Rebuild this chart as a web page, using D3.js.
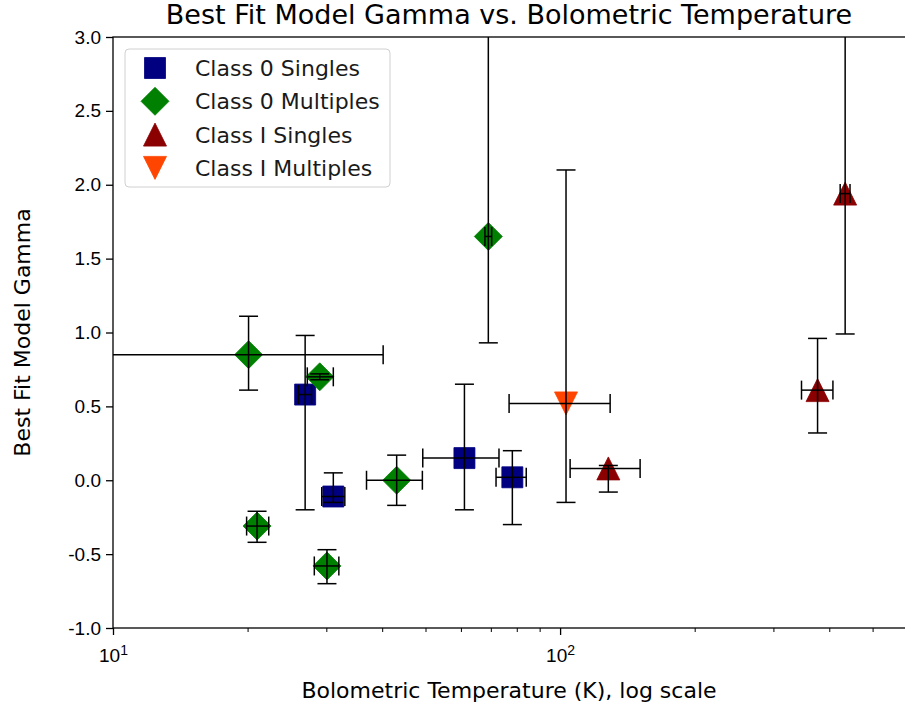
<!DOCTYPE html>
<html>
<head>
<meta charset="utf-8">
<script src="https://cdn.jsdelivr.net/npm/d3@7"></script>
<style>
  html, body { margin: 0; padding: 0; background: #fff; }
  svg { display: block; font-family: "DejaVu Sans", sans-serif; }
</style>
</head>
<body>
<svg id="chart" width="905" height="711"></svg>
<script>
// Class 0 singles
const c0sT    = [26.9, 31.1, 61.1, 78.2];
const c0sG    = [0.58, -0.11, 0.15, 0.02];
const c0sTlo  = [0.9, 1.8, 11.8, 6.3];
const c0sThi  = [0.9, 1.9, 11.9, 5.8];
const c0sGlo  = [0.78, 0.04, 0.35, 0.32];
const c0sGhi  = [0.40, 0.16, 0.50, 0.18];

// Class 0 multiples
const c0mT    = [20.1, 29.0, 21.0, 30.1, 43.1, 69.1];
const c0mG    = [0.85, 0.70, -0.31, -0.58, 0.00, 1.65];
const c0mTlo  = [20.0, 1.8, 1.1, 1.9, 6.2, 1.2];
const c0mThi  = [20.1, 2.1, 1.3, 1.9, 6.1, 1.2];
const c0mGlo  = [0.24, 0.02, 0.11, 0.12, 0.17, 0.72];
const c0mGhi  = [0.26, 0.02, 0.10, 0.11, 0.17, 1.60];

// Class I singles
const c1sT    = [128.2, 376.6, 434.1];
const c1sG    = [0.08, 0.61, 1.94];
const c1sTlo  = [22.9, 29.9, 11.0];
const c1sThi  = [22.8, 31.0, 11.0];
const c1sGlo  = [0.16, 0.29, 0.95];
const c1sGhi  = [0.02, 0.35, 1.30];

// Class I multiples
const c1mT    = [103.1];
const c1mG    = [0.52];
const c1mTlo  = [26.2];
const c1mThi  = [26.3];
const c1mGlo  = [0.67];
const c1mGhi  = [1.58];

const seriesNames = ["Class 0 Singles", "Class 0 Multiples", "Class I Singles", "Class I Multiples"];
const yTicks = [-1.0, -0.5, 0.0, 0.5, 1.0, 1.5, 2.0, 2.5, 3.0];
const xMajorTicks = [10, 100];
const xMinorTicks = [20, 30, 40, 50, 60, 70, 80, 90, 200, 300, 400, 500];

const series = [
  { name: seriesNames[0], T: c0sT, G: c0sG, Tlo: c0sTlo, Thi: c0sThi, Glo: c0sGlo, Ghi: c0sGhi, shape: "square",  color: "#000080" },
  { name: seriesNames[1], T: c0mT, G: c0mG, Tlo: c0mTlo, Thi: c0mThi, Glo: c0mGlo, Ghi: c0mGhi, shape: "diamond", color: "#008000" },
  { name: seriesNames[2], T: c1sT, G: c1sG, Tlo: c1sTlo, Thi: c1sThi, Glo: c1sGlo, Ghi: c1sGhi, shape: "up",      color: "#8b0000" },
  { name: seriesNames[3], T: c1mT, G: c1mG, Tlo: c1mTlo, Thi: c1mThi, Glo: c1mGlo, Ghi: c1mGhi, shape: "down",    color: "#ff4500" }
];

const svg = d3.select("#chart");
const plot = { left: 113, top: 37, right: 908, bottom: 628 };

const x = d3.scaleLog().domain([10, 600]).range([plot.left, plot.right]);
const y = d3.scaleLinear().domain([-1, 3]).range([plot.bottom, plot.top]);

svg.append("defs").append("clipPath").attr("id", "plotclip")
  .append("rect")
  .attr("x", plot.left).attr("y", plot.top)
  .attr("width", plot.right - plot.left).attr("height", plot.bottom - plot.top);

// marker path centred on the origin
function markerPath(shape, s) {
  const p = d3.path();
  if (shape === "square") {
    p.rect(-s / 2, -s / 2, s, s);
  } else if (shape === "diamond") {
    p.moveTo(0, -s / 2); p.lineTo(s / 2, 0); p.lineTo(0, s / 2); p.lineTo(-s / 2, 0); p.closePath();
  } else if (shape === "up") {
    p.moveTo(0, -s / 2); p.lineTo(s / 2, s / 2); p.lineTo(-s / 2, s / 2); p.closePath();
  } else {
    p.moveTo(0, s / 2); p.lineTo(s / 2, -s / 2); p.lineTo(-s / 2, -s / 2); p.closePath();
  }
  return p.toString();
}
const markerSize = { square: 21, diamond: 28, up: 23, down: 23 };

const g = svg.append("g").attr("clip-path", "url(#plotclip)");

// markers
series.forEach(s => {
  const pts = s.T.map((t, i) => ({ t, g: s.G[i] }));
  g.selectAll(null).data(pts).enter().append("path")
    .attr("d", markerPath(s.shape, markerSize[s.shape]))
    .attr("transform", d => `translate(${x(d.t)},${y(d.g)})`)
    .attr("fill", s.color)
    .attr("stroke", s.color)
    .attr("stroke-width", 0.8);
});

// error bars drawn over the markers
const cap = 9.5;
function safeX(v) { return v > 0 ? x(v) : plot.left - 2000; }
series.forEach(s => {
  const eb = g.append("g").attr("stroke", "#000").attr("stroke-width", 1.5).attr("fill", "none");
  s.T.forEach((t, i) => {
    const cx = x(t), cy = y(s.G[i]);
    const x0 = safeX(t - s.Tlo[i]), x1 = safeX(t + s.Thi[i]);
    const y0 = y(s.G[i] - s.Glo[i]), y1 = y(s.G[i] + s.Ghi[i]);
    eb.append("line").attr("x1", cx).attr("x2", cx).attr("y1", y0).attr("y2", y1);
    eb.append("line").attr("x1", cx - cap).attr("x2", cx + cap).attr("y1", y0).attr("y2", y0);
    eb.append("line").attr("x1", cx - cap).attr("x2", cx + cap).attr("y1", y1).attr("y2", y1);
    eb.append("line").attr("x1", x0).attr("x2", x1).attr("y1", cy).attr("y2", cy);
    eb.append("line").attr("x1", x0).attr("x2", x0).attr("y1", cy - cap).attr("y2", cy + cap);
    eb.append("line").attr("x1", x1).attr("x2", x1).attr("y1", cy - cap).attr("y2", cy + cap);
  });
});

// frame
svg.append("rect")
  .attr("x", plot.left).attr("y", plot.top)
  .attr("width", plot.right - plot.left).attr("height", plot.bottom - plot.top)
  .attr("fill", "none").attr("stroke", "#000").attr("stroke-width", 1.3);

// y axis
const yAxis = svg.append("g")
  .attr("transform", `translate(${plot.left},0)`)
  .call(d3.axisLeft(y).tickValues(yTicks).tickFormat(d3.format(".1f")).tickSize(7).tickPadding(5));
yAxis.select(".domain").remove();
yAxis.selectAll("text").attr("font-size", 19).attr("fill", "#000")
  .text(d => d.toFixed(1));
yAxis.selectAll("line").attr("stroke-width", 1.3);

// x axis, minor ticks
const xMinor = svg.append("g")
  .attr("transform", `translate(0,${plot.bottom})`)
  .call(d3.axisBottom(x).tickValues(xMinorTicks).tickFormat("").tickSize(4));
xMinor.select(".domain").remove();
xMinor.selectAll("line").attr("stroke-width", 1);

// x axis, major ticks with power-of-ten labels
const xMajor = svg.append("g")
  .attr("transform", `translate(0,${plot.bottom})`)
  .call(d3.axisBottom(x).tickValues(xMajorTicks).tickSize(7).tickPadding(14));
xMajor.select(".domain").remove();
xMajor.selectAll("line").attr("stroke-width", 1.3);
xMajor.selectAll("text")
  .attr("font-size", 19).attr("fill", "#000")
  .each(function (d) {
    const t = d3.select(this).text(null);
    t.append("tspan").text("10");
    t.append("tspan").attr("dy", "-0.5em").attr("font-size", 14).text(String(Math.round(Math.log10(d))));
  });

// titles
svg.append("text")
  .attr("x", (plot.left + 905) / 2).attr("y", 24)
  .attr("text-anchor", "middle").attr("font-size", 27).attr("fill", "#000")
  .text("Best Fit Model Gamma vs. Bolometric Temperature");

svg.append("text")
  .attr("x", (plot.left + 905) / 2).attr("y", 698)
  .attr("text-anchor", "middle").attr("font-size", 22).attr("fill", "#000")
  .text("Bolometric Temperature (K), log scale");

svg.append("text")
  .attr("transform", `translate(30,${(plot.top + plot.bottom) / 2}) rotate(-90)`)
  .attr("text-anchor", "middle").attr("font-size", 22).attr("fill", "#000")
  .text("Best Fit Model Gamma");

// legend
const legend = svg.append("g").attr("transform", "translate(125,49)");
legend.append("rect")
  .attr("width", 265).attr("height", 138).attr("rx", 4)
  .attr("fill", "#fff").attr("fill-opacity", 0.8)
  .attr("stroke", "#d0d0d0").attr("stroke-width", 1);
series.forEach((s, i) => {
  const row = legend.append("g").attr("transform", `translate(30,${19 + i * 33.3})`);
  row.append("path")
    .attr("d", markerPath(s.shape, markerSize[s.shape]))
    .attr("fill", s.color).attr("stroke", s.color).attr("stroke-width", 0.8);
  row.append("text")
    .attr("x", 40).attr("y", 0).attr("dy", "0.36em")
    .attr("font-size", 22).attr("fill", "#1a1a1a")
    .text(s.name);
});
</script>
</body>
</html>
